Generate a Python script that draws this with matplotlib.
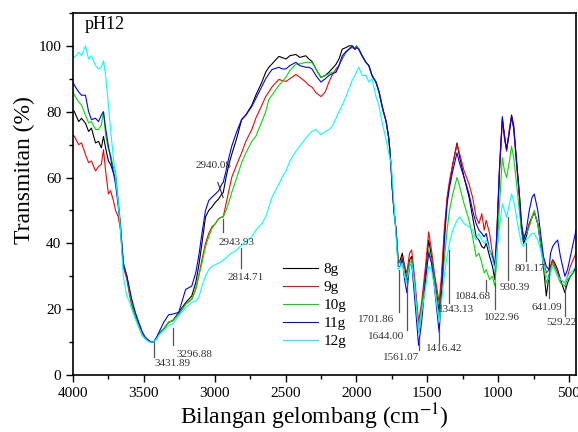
import numpy as np
import matplotlib
matplotlib.use("Agg")
from matplotlib import pyplot as plt
from matplotlib.ticker import MultipleLocator

plt.rcParams["font.family"] = "serif"
plt.rcParams["font.serif"] = ["Liberation Serif", "DejaVu Serif"]
plt.rcParams["mathtext.fontset"] = "stix"

# Bilangan gelombang (cm-1)
wn = [
    4000, 3990, 3960, 3940, 3912, 3890, 3870, 3841, 3820, 3800,
    3785, 3770, 3750, 3735, 3715, 3700, 3680, 3665, 3645, 3620,
    3600, 3585, 3560, 3540, 3510, 3490, 3465, 3445, 3431, 3410,
    3395, 3360, 3325, 3297, 3254, 3205, 3162, 3134, 3113, 3090,
    3065, 3042, 3020, 2995, 2972, 2950, 2940, 2920, 2900, 2880,
    2844, 2810, 2780, 2738, 2710, 2667, 2640, 2618, 2596, 2547,
    2526, 2497, 2470, 2427, 2400, 2357, 2335, 2314, 2286, 2250,
    2220, 2194, 2172, 2144, 2123, 2100, 2073, 2052, 2030, 2010,
    2000, 1983, 1960, 1933, 1912, 1890, 1862, 1840, 1815, 1790,
    1770, 1755, 1747, 1735, 1720, 1705, 1690, 1676, 1660, 1644,
    1625, 1610, 1590, 1561, 1540, 1510, 1490, 1470, 1450, 1416,
    1400, 1380, 1360, 1343, 1320, 1290, 1270, 1240, 1205, 1180,
    1155, 1135, 1115, 1098, 1084, 1060, 1040, 1023, 1010, 990,
    970, 955, 940, 920, 905, 890, 870, 850, 835, 820,
    801, 780, 760, 745, 720, 700, 680, 660, 641, 630,
    615, 600, 580, 560, 529, 510, 490, 470, 450,
]

# Transmitan (%) tiap massa
t_8g = [
    80.5, 80, 77, 78, 76.5, 74, 75, 70.5, 71, 69,
    72.5, 69, 65, 64, 61.5, 60, 52, 45, 33, 30,
    25, 22, 18, 16, 12.5, 11, 10.3, 10, 10, 11,
    12.5, 14, 16, 16.5, 19, 22, 24, 28, 33, 40,
    48, 50, 51, 52.5, 53.5, 55, 55.4, 60, 64, 67,
    72, 77.6, 79, 82, 85, 89, 92, 93.5, 94.5, 96.8,
    96.5, 96, 97, 97.4, 96.5, 97, 96, 95.3, 93, 90.4,
    91, 92, 93, 94.4, 96, 99, 99.5, 100, 100, 99,
    100, 99, 97, 95, 94, 91, 89, 86, 81, 77,
    71.5, 63, 57, 50, 44, 34, 35, 37, 33, 29,
    35, 36, 28, 13, 20, 32, 41, 36, 30, 19,
    28, 42, 53, 58, 64, 70.5, 66, 60, 54, 48,
    42, 41, 39, 38.5, 40, 36, 33, 29, 40, 62,
    77.5, 73, 68.5, 74, 79, 76, 65, 55, 44, 40,
    42, 46, 48, 49.5, 46, 40, 33, 24, 30, 33,
    35, 34, 32, 29, 25, 28, 30, 31, 33,
]
t_9g = [
    73, 72.5, 70, 70.5, 67, 64.5, 65, 62, 63.3, 64,
    68.5, 62, 55, 56, 53, 50, 48, 44, 33, 29,
    24, 21, 17.5, 15, 12, 11, 10.3, 10, 10, 11,
    12.5, 14, 16, 16.5, 18.5, 21.5, 23, 26, 30, 35,
    40, 43, 45, 46, 47.5, 48, 48, 52, 56, 60,
    64, 67.5, 71, 74.6, 78, 82, 84.6, 86, 87.5, 89.8,
    89.5, 89.2, 90, 91.3, 90.5, 89, 88, 87.5, 85.8, 84.6,
    86, 89, 91, 93, 94, 96, 98, 99, 99.5, 99,
    99.5, 99, 97, 95, 94, 91, 89, 86, 81, 77,
    71.5, 63, 57, 50, 44, 35, 34, 36, 33, 31,
    37, 38, 30, 16, 22, 34, 43.5, 38, 31, 22,
    30, 44, 54, 59, 64, 70, 67, 62, 58, 54,
    48, 46, 49, 44, 47, 43, 37, 33, 42, 63,
    78, 72, 68, 75, 78.5, 75, 64, 54, 46, 42,
    43, 46, 48, 49.5, 46, 40, 35, 31, 32, 33,
    35, 33, 31, 29, 28, 30, 33, 35, 37,
]
t_10g = [
    86, 85, 83, 82, 79, 76.6, 77, 74.6, 74.6, 76,
    80, 73, 68.5, 67, 63, 62, 53, 46, 34, 30,
    25, 22, 18, 15.5, 12, 11, 10.3, 10, 10, 11,
    12.5, 14, 16, 16.5, 18.5, 21.5, 23, 26, 30, 34,
    39, 42, 44.5, 46, 47.5, 48, 48, 50, 52.5, 55.4,
    60, 64.5, 67.5, 71, 72.5, 77, 80, 83.7, 85, 88,
    89, 90.5, 92.5, 94.4, 94.5, 95, 95, 95, 93, 90.4,
    91, 91.5, 92, 92, 94, 96.5, 98, 99, 100, 99,
    100, 99, 97, 95, 94, 91, 89, 86, 81, 77,
    71.5, 63, 57, 50, 44, 35, 34, 35, 31, 29,
    34, 35, 28, 14, 20, 30, 38, 35, 29, 17,
    25, 35, 44, 50, 55, 60, 57, 52, 47, 42,
    36, 37, 34, 31, 32, 29, 30, 27, 35, 52,
    66, 62, 60, 65, 69.5, 66, 58, 50, 44, 41,
    43, 45, 48, 50, 46, 40, 34, 28, 30, 32,
    34, 32, 30, 28, 27, 29, 30, 31, 32,
]
t_11g = [
    89, 88, 86, 85, 85, 80, 77.6, 78, 77, 79,
    80, 75, 69.5, 66, 61.5, 58, 51, 45, 34, 30,
    26, 23, 19, 16.5, 13, 11.5, 10.5, 10, 10, 11.5,
    12.8, 16, 18.3, 18.5, 19, 26, 27, 31, 36, 43,
    50, 53, 54, 55, 56, 58, 58.5, 62, 66, 69.5,
    74, 77.6, 79, 81.6, 84, 87.7, 90, 91.5, 92.8, 93.5,
    93, 93, 94, 95, 94, 93.5, 93.5, 93, 91, 89,
    90, 91, 91.5, 92, 94, 97, 98.3, 99, 100, 99,
    99.5, 99, 97, 95, 94, 91, 89, 86, 81, 77,
    71.5, 63, 57, 50, 44, 33, 33, 35, 29, 25,
    33, 34, 24, 9, 16, 30, 37, 34, 27, 13,
    24, 40, 52, 57, 62, 67.5, 64, 60, 55, 50,
    46, 44, 43, 42, 43, 38, 36, 33, 42, 63,
    78.5, 72, 68.5, 74, 78.5, 75, 65, 55, 46, 41,
    44, 50, 54, 55, 50, 43, 36, 33, 32, 37,
    39, 40, 41, 36, 30, 32, 36, 40, 44,
]
t_12g = [
    97, 96.5, 98, 97, 100, 96, 97, 94, 93, 93.5,
    95.5, 91, 82, 74.6, 66, 60, 52, 44, 30, 24,
    22, 20, 17, 15, 12, 11, 10, 10, 10, 11,
    12, 13.5, 15, 15.5, 18, 20.5, 22, 22.5, 23.5, 27,
    30, 32, 33, 33.5, 34, 34.5, 35, 35.5, 36.5, 37,
    38, 39.5, 40.5, 42, 44, 46, 48, 51, 54, 58,
    60, 62, 65, 68, 69.5, 72, 73, 74, 74.6, 73,
    74, 74.5, 75.5, 78, 80, 82, 84.6, 87, 89.5, 91,
    92, 93.5, 91, 91, 89, 90, 84.6, 81.6, 76, 71.5,
    67, 64.5, 60, 52, 42, 32, 33, 34, 30, 28,
    33, 34, 27, 13, 19, 27, 33, 32, 27, 16,
    22, 30, 36, 40, 44, 47, 48, 46, 45, 44,
    41, 43, 41, 40, 41, 38, 35, 32, 37, 45,
    52, 50, 48, 52, 55, 53, 48, 43, 40, 39,
    41, 42, 43, 43, 41, 38, 34, 30, 29, 31,
    33, 32, 30, 29, 28, 30, 31, 32, 33,
]

labels = ["8g", "9g", "10g", "11g", "12g"]
colors = ["black", "red", "#00dd00", "blue", "cyan"]

# Puncak serapan: teks, bilangan gelombang, ujung garis, posisi teks
peak_text = ["2940.08", "2943.93", "2814.71", "3431.89", "3296.88",
             "1701.86", "1644.00", "1561.07", "1416.42", "1343.13",
             "1084.68", "1022.96", "930.39", "801.17", "641.09", "529.22"]
peak_wn = [2940.08, 2943.93, 2814.71, 3431.89, 3296.88,
           1701.86, 1644.00, 1561.07, 1416.42, 1343.13,
           1084.68, 1022.96, 930.39, 801.17, 641.09, 529.22]
line_top = [55.4, 47.5, 38.5, 10, 14.2, 32, 29.5, 10.8, 13.7, 38, 29, 28, 48, 40, 32, 27]
line_bot = [50.5, 43.5, 32.5, 5.5, 9, 19, 13.8, 7.6, 9.6, 22, 25.5, 20, 29, 34.5, 23.5, 18]
text_x = [3010, 2845, 2780, 3295, 3140, 1860, 1790, 1685, 1380, 1300,
          1180, 975, 880, 775, 655, 555]
text_y = [63.8, 40.2, 29.5, 3.5, 6.3, 17, 11.8, 5.4, 7.9, 19.9, 23.8, 17.6, 26.5, 32.4, 20.5, 16]
# garis miring untuk 2940.08
slant_from = [2978, 58.5]

fig = plt.figure(figsize=(5.78, 4.32), dpi=100)
ax = fig.add_axes([0.1263, 0.132, 0.8703, 0.838])

for t, lab, c in zip([t_8g, t_9g, t_10g, t_11g, t_12g], labels, colors):
    ax.plot(wn, t, color=c, lw=0.8, label=lab)

for i in range(len(peak_text)):
    if i == 0:
        ax.plot([slant_from[0], peak_wn[i]], [slant_from[1], line_top[i] - 1.5],
                color="#333333", lw=0.8)
    else:
        ax.plot([peak_wn[i], peak_wn[i]], [line_top[i], line_bot[i]],
                color="#555555", lw=0.9)
    ax.text(text_x[i], text_y[i], peak_text[i], fontsize=8, color="#333333",
            ha="center", va="center")

ax.set_xlim(4000, 450)
ax.set_ylim(0, 110)
ax.xaxis.set_major_locator(MultipleLocator(500))
ax.xaxis.set_minor_locator(MultipleLocator(250))
ax.yaxis.set_minor_locator(MultipleLocator(10))
ax.set_yticks([0, 20, 40, 60, 80, 100])
ax.tick_params(which="both", direction="out", top=False, right=False,
               labelsize=11, width=1)
ax.tick_params(which="major", length=5)
ax.tick_params(which="minor", length=3)
for s in ax.spines.values():
    s.set_linewidth(1.2)

ax.set_xlabel(r"Bilangan gelombang (cm$^{-1}$)", fontsize=17)
ax.set_ylabel("Transmitan (%)", fontsize=17)
ax.xaxis.set_label_coords(0.479, -0.072)
ax.yaxis.set_label_coords(-0.075, 0.565)

ax.text(0.024, 0.967, "pH12", transform=ax.transAxes, fontsize=13,
        ha="left", va="center")

ax.legend(loc="upper left", bbox_to_anchor=(0.417, 0.31), frameon=False,
          fontsize=11, handlelength=2.3, handletextpad=0.35,
          labelspacing=0.28, borderpad=0, borderaxespad=0)

fig.savefig("out.png", dpi=100)
